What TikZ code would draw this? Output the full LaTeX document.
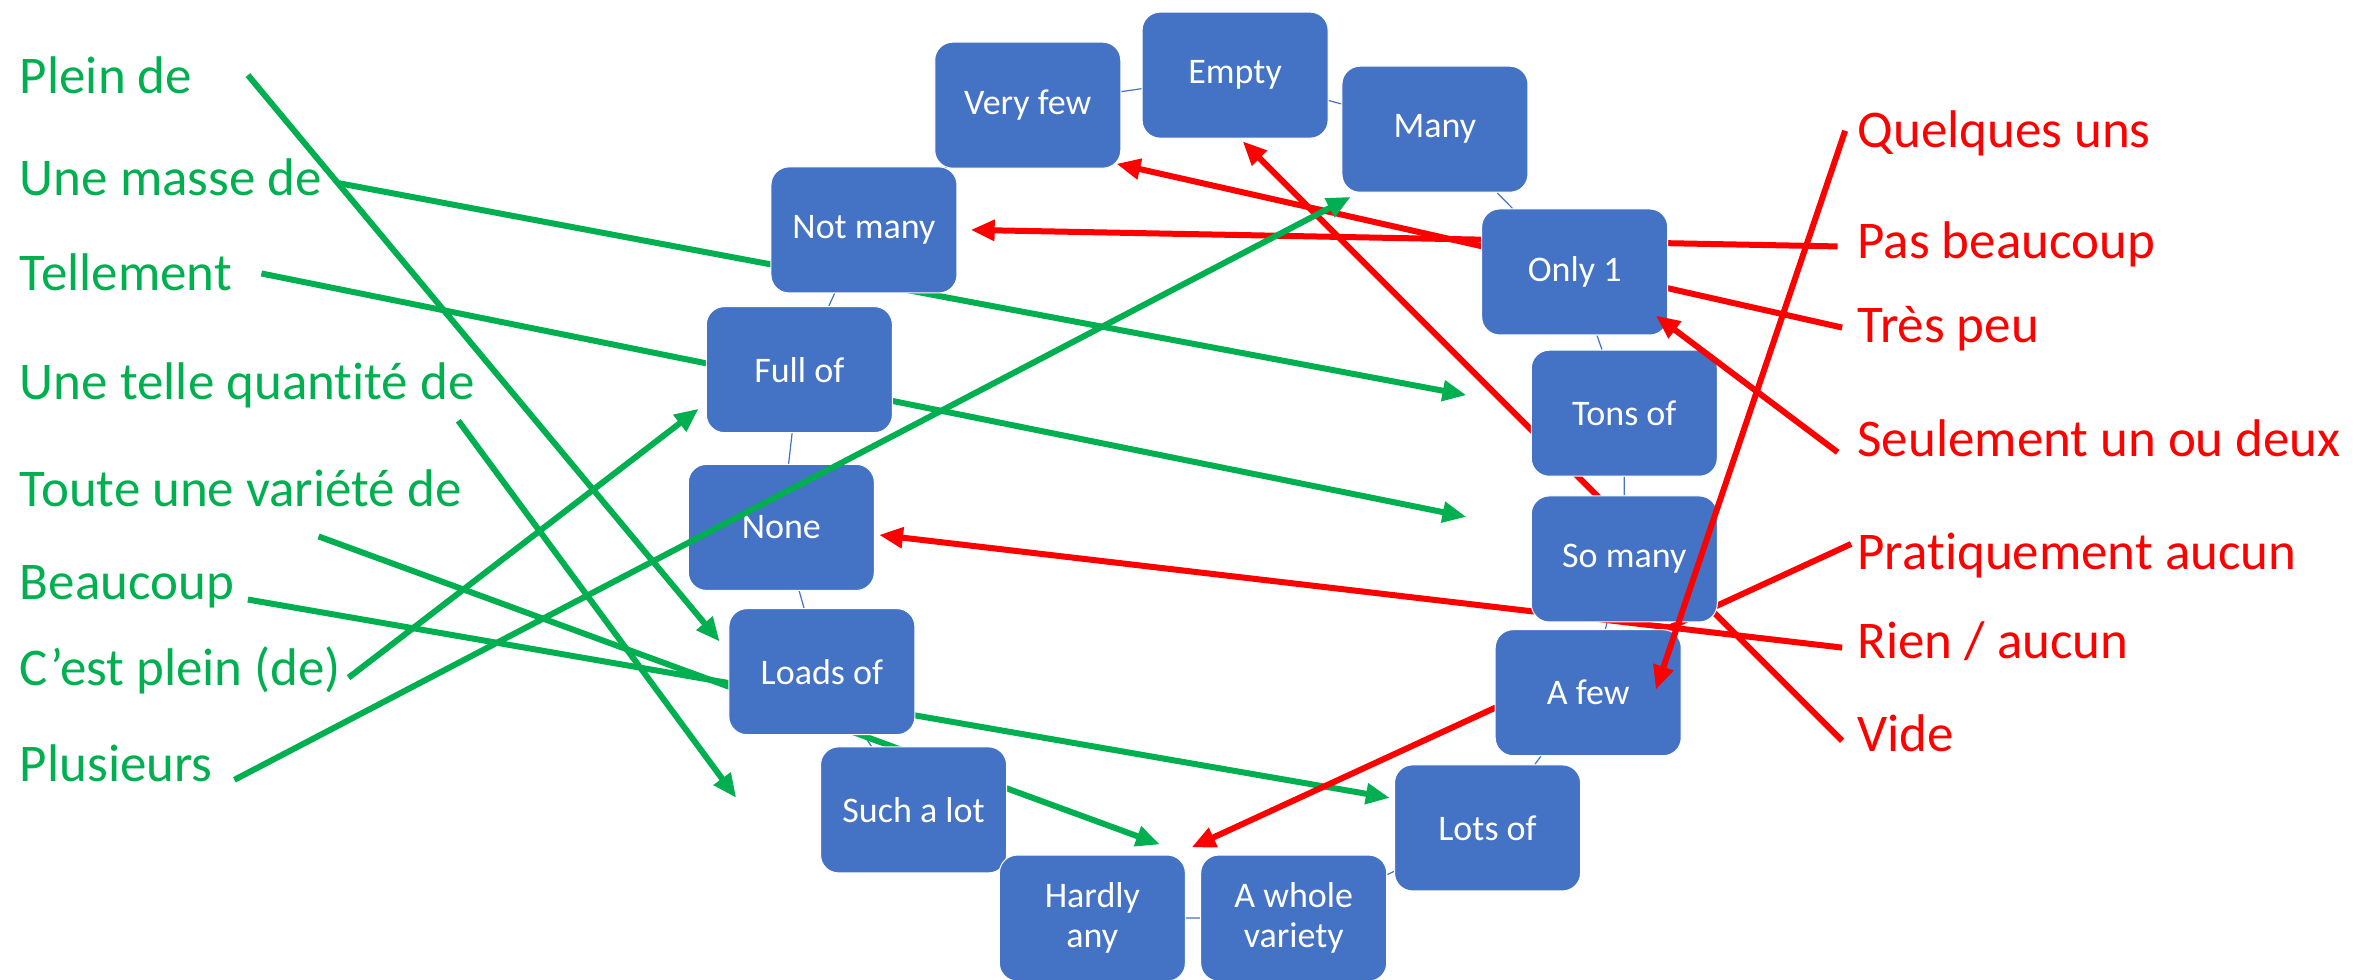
\documentclass[tikz,border=0pt]{standalone}
\usepackage{fontspec}
\setmainfont{Carlito}[Ligatures={NoCommon}]
\usetikzlibrary{arrows.meta,calc,backgrounds}
\definecolor{boxblue}{HTML}{4472C4}
\definecolor{lblgreen}{HTML}{00B050}
\definecolor{lblred}{HTML}{FF0000}
\tikzset{
  qbox/.style={rounded corners=9pt, fill=boxblue, draw=white, line width=0.5pt,
    minimum width=93pt, minimum height=63pt, text=white, align=center,
    font=\fontsize{18}{20}\selectfont, inner sep=2pt},
  glabel/.style={anchor=base west, inner sep=0pt, text=lblgreen, font=\fontsize{26.5}{30}\selectfont},
  rlabel/.style={anchor=base west, inner sep=0pt, text=lblred, font=\fontsize{26.5}{30}\selectfont},
  garrow/.style={draw=lblgreen, line width=3pt, -{Triangle[length=12pt,width=10pt]}},
  rarrow/.style={draw=lblred, line width=3pt, -{Triangle[length=12pt,width=10pt]}},
  ring/.style={draw=boxblue, line width=0.6pt}
}
\begin{document}
\begin{tikzpicture}[x=0.7513pt, y=-0.7513pt]
\useasboundingbox (0,0) rectangle (1568,652);
% boxes
\node[qbox] (veryfew) at (684,70) {Very few};
\node[qbox] (empty) at (822,50) {Empty};
\node[qbox] (many) at (955,86) {Many};
\node[qbox] (only) at (1048,181) {Only 1};
\node[qbox] (tons) at (1081,275) {Tons of};
\node[qbox] (somany) at (1081,372) {So many};
\node[qbox] (afew) at (1057,461) {A few};
\node[qbox] (lots) at (990,551) {Lots of};
\node[qbox] (whole) at (861,611) {A whole\\variety};
\node[qbox] (such) at (608,539) {Such a lot};
\node[qbox] (hardly) at (727,611) {Hardly\\any};
\node[qbox] (loads) at (547,447) {Loads of};
\node[qbox] (none) at (520,351) {None};
\node[qbox] (full) at (532,246) {Full of};
\node[qbox] (notmany) at (575,153) {Not many};
% labels left
\node[glabel] (plein) at (13,62) {Plein de};
\node[glabel] (masse) at (13,130) {Une masse de};
\node[glabel] (tell) at (13,193) {Tellement};
\node[glabel] (quant) at (13,266) {Une telle quantité de};
\node[glabel] (toute) at (13,337) {Toute une variété de};
\node[glabel] (beau) at (13,399) {Beaucoup};
\node[glabel] (cest) at (13,456) {C’est plein (de)};
\node[glabel] (plus) at (13,520) {Plusieurs};
% labels right
\node[rlabel] (quel) at (1236,98) {Quelques uns};
\node[rlabel] (pas) at (1236,172) {Pas beaucoup};
\node[rlabel] (tres) at (1236,228) {Très peu};
\node[rlabel] (seul) at (1236,304) {Seulement un ou deux};
\node[rlabel] (prat) at (1236,379) {Pratiquement aucun};
\node[rlabel] (rien) at (1236,438) {Rien / aucun};
\node[rlabel] (vide) at (1236,500) {Vide};
\coordinate (freeend) at ($(such)+(-118,-8)$);
% background: ring and arrows behind boxes
\begin{scope}[on background layer]
  \draw[ring] (empty) -- (many) -- (only) -- (tons) -- (somany) -- (afew) -- (lots)
    -- (whole) -- (hardly) -- (such) -- (loads) -- (none) -- (full) -- (notmany)
    -- (veryfew) -- (empty);
  \draw[garrow] ($(masse.base west)+(213,-8)$) -- ($(tons)+(-105,-12)$);
  \draw[garrow] ($(tell.base west)+(161,-11)$) -- ($(somany)+(-105,-28)$);
  \draw[garrow] ($(toute.base west)+(199,20)$) -- ($(hardly)+(45,-49)$);
  \draw[garrow] ($(beau.base west)+(152,0)$) -- ($(lots)+(-65,-20)$);
  \draw[rarrow] ($(pas.base west)+(-13,-8)$) -- ($(notmany)+(71,0)$);
  \draw[rarrow] ($(tres.base west)+(-10,-10)$) -- ($(veryfew)+(59,39)$);
  \draw[rarrow] ($(prat.base west)+(-4,-17)$) -- ($(hardly)+(66,-47)$);
  \draw[rarrow] ($(rien.base west)+(-10,-7)$) -- ($(none)+(65,5)$);
  \draw[rarrow] ($(vide.base west)+(-10,-7)$) -- ($(empty)+(5,44)$);
\end{scope}
% arrows in front
\draw[garrow] ($(plein.base west)+(152,-12)$) -- ($(loads)+(-68,-20)$);
\draw[garrow] ($(quant.base west)+(292,14)$) -- (freeend);
\draw[garrow] ($(cest.base west)+(219,-5)$) -- ($(full)+(-67,26)$);
\draw[garrow] ($(plus.base west)+(143,-1)$) -- ($(many)+(-56,45)$);
\draw[rarrow] ($(quel.base west)+(-8,-11)$) -- ($(afew)+(45,-2)$);
\draw[rarrow] ($(seul.base west)+(-13,-3)$) -- ($(only)+(54,29)$);
\end{tikzpicture}
\end{document}
